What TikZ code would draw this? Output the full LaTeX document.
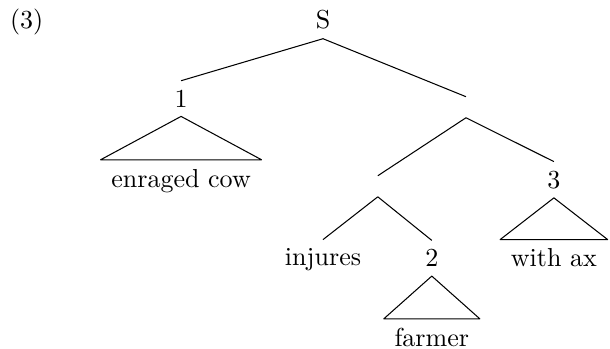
\documentclass[tikz,border=0pt]{standalone}
\begin{document}
\begin{tikzpicture}[>=latex,line join=bevel,
  every node/.style={anchor=base},
  blank/.style={minimum height=7.7pt,inner sep=0pt},
  roofleaf/.style={inner xsep=4pt},]
\useasboundingbox (0bp,0bp) rectangle (233.8bp,133.7bp);
%%
\node (node_ex) at (10.2bp,122.6bp) [draw,draw=none] {(3)};
  \node (node_S) at (123.8bp,122.6bp) [draw,draw=none] {S};
  \node (node_1) at (69.4bp,92.6bp) [draw,draw=none] {1};
  \node (node_r) at (178.6bp,92.6bp) [draw,draw=none,blank] {};
  \node (node_cow) at (69.4bp,62.0bp) [draw,draw=none,roofleaf] {enraged cow};
  \node (node_vp) at (144.8bp,62.3bp) [draw,draw=none,blank] {};
  \node (node_3) at (212.3bp,61.6bp) [draw,draw=none] {3};
  \node (node_inj) at (123.8bp,31.8bp) [draw,draw=none] {injures};
  \node (node_2) at (165.5bp,31.4bp) [draw,draw=none] {2};
  \node (node_ax) at (212.3bp,31.4bp) [draw,draw=none,roofleaf] {with ax};
  \node (node_farm) at (165.5bp,0.9bp) [draw,draw=none,roofleaf] {farmer};
  \draw [black] (node_S.south) -- (node_1.north);
  \draw [black] (node_S.south) -- (node_r.north);
  \draw [black] (node_r.south) -- (node_vp.north);
  \draw [black] (node_r.south) -- (node_3.north);
  \draw [black] (node_vp.south) -- (node_inj.north);
  \draw [black] (node_vp.south) -- (node_2.north);
  \draw [black] (node_1.south) -- (node_cow.north west) -- (node_cow.north east) -- cycle;
  \draw [black] (node_3.south) -- (node_ax.north west) -- (node_ax.north east) -- cycle;
  \draw [black] (node_2.south) -- (node_farm.north west) -- (node_farm.north east) -- cycle;
%
\end{tikzpicture}
\end{document}
